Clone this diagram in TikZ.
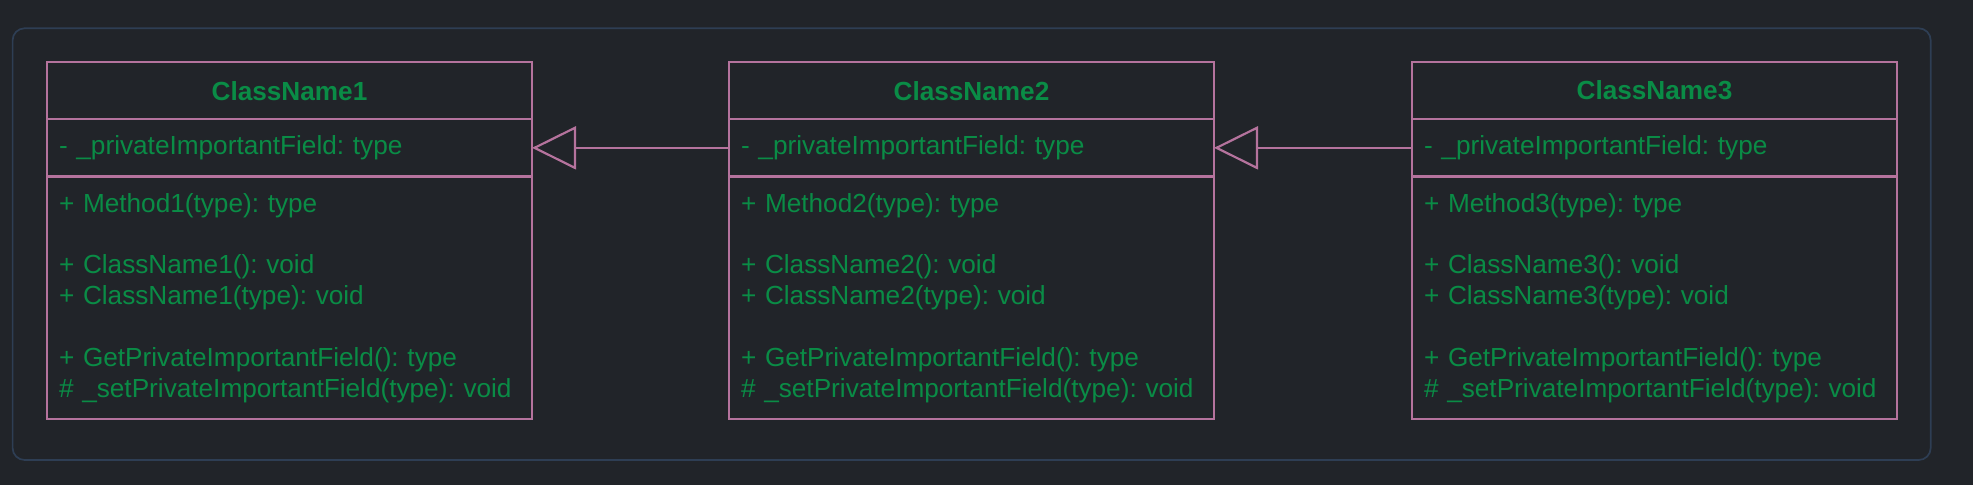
\documentclass[tikz,border=0pt]{standalone}
\usepackage{fontspec}
\setmainfont{Liberation Sans}
\usetikzlibrary{positioning,arrows.meta}
\definecolor{canvasbg}{RGB}{33,36,41}
\definecolor{framedraw}{RGB}{46,62,84}
\definecolor{classdraw}{RGB}{181,115,157}
\definecolor{classtext}{RGB}{10,140,70}
\frenchspacing
\tikzset{
  classpart/.style={draw=classdraw,line width=.024cm,outer sep=0pt,minimum width=4.85cm,text=classtext,font=\fontsize{7.45}{8.76}\selectfont},
  classhead/.style={classpart,minimum height=.567cm,font={\bfseries\fontsize{7.45}{8.76}\selectfont}},
  classrows/.style={classpart,inner xsep=.12cm,text width=4.61cm,align=left},
  inherit/.style={draw=classdraw,line width=.022cm,-{Triangle[open,length=.44cm,width=.43cm]}}
}
\begin{document}
\begin{tikzpicture}
  \fill[canvasbg] (0,0) rectangle (19.73,4.85);
  \draw[framedraw,line width=.017cm,rounded corners=.12cm] (.126,.25) rectangle (19.307,4.567);
  \foreach \i/\x in {1/2.895,2/9.715,3/16.545}{
    \node[classhead,anchor=north] (c\i-head) at (\x,4.227) {ClassName\i};
    \node[classrows,minimum height=.577cm,below=0pt of c\i-head] (c\i-field) {- \_privateImportantField: type};
    \node[classrows,minimum height=2.426cm,below=0pt of c\i-field] (c\i-ops) {+ Method\i(type): type\\[8.76pt]
      + ClassName\i(): void\\+ ClassName\i(type): void\\[8.76pt]
      + GetPrivateImportantField(): type\\\# \_setPrivateImportantField(type): void};
  }
  \draw[inherit] (c2-field) -- (c1-field);
  \draw[inherit] (c3-field) -- (c2-field);
\end{tikzpicture}
\end{document}
